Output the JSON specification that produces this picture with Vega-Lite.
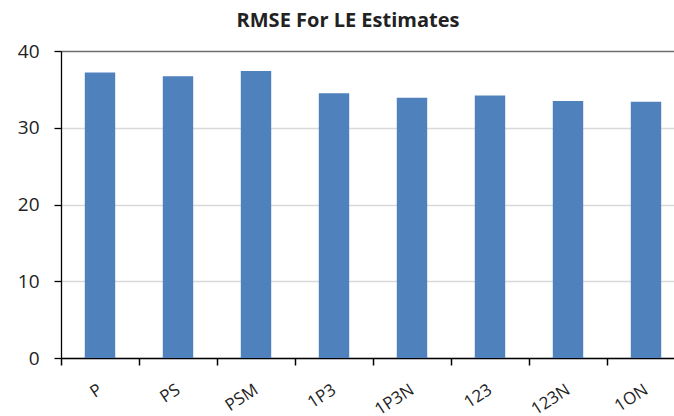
{
  "$schema": "https://vega.github.io/schema/vega-lite/v6.json",
  "autosize": {"type": "none"},
  "width": 624,
  "height": 307,
  "padding": {"left": 61, "top": 51, "right": -11, "bottom": 58},
  "background": "white",
  "title": {
    "text": "RMSE For LE Estimates",
    "font": "Open Sans",
    "fontSize": 20,
    "fontWeight": "bold",
    "color": "#222222",
    "anchor": "middle",
    "dx": -25,
    "offset": 11
  },
  "data": {
    "values": [
      {"method": "P", "rmse": 37.2},
      {"method": "PS", "rmse": 36.7},
      {"method": "PSM", "rmse": 37.4},
      {"method": "1P3", "rmse": 34.5},
      {"method": "1P3N", "rmse": 33.9},
      {"method": "123", "rmse": 34.2},
      {"method": "123N", "rmse": 33.5},
      {"method": "1ON", "rmse": 33.4}
    ]
  },
  "mark": {"type": "bar", "color": "#4F81BD", "width": {"band": 0.39}},
  "encoding": {
    "x": {
      "field": "method",
      "type": "nominal",
      "sort": null,
      "scale": {"paddingInner": 0, "paddingOuter": 0},
      "axis": {
        "title": null,
        "ticks": true,
        "tickBand": "extent",
        "grid": false,
        "domainColor": "#000000",
        "tickColor": "#000000",
        "tickSize": 7,
        "tickWidth": 1.5,
        "domainWidth": 1.3,
        "labelAngle": -33,
        "labelAlign": "right",
        "labelBaseline": "middle",
        "labelPadding": 23,
        "labelFont": "Open Sans",
        "labelFontSize": 17,
        "labelColor": "#222222"
      }
    },
    "y": {
      "field": "rmse",
      "type": "quantitative",
      "scale": {"domain": [0, 40], "nice": false},
      "axis": {
        "title": null,
        "values": [0, 10, 20, 30, 40],
        "grid": true,
        "gridColor": {"condition": {"test": "datum.value == 40", "value": "#6E6E6E"}, "value": "#D9D9D9"},
        "gridWidth": 1.3,
        "domainColor": "#000000",
        "domainWidth": 1.3,
        "tickColor": "#000000",
        "tickWidth": 1.3,
        "tickSize": 7,
        "labelPadding": 15,
        "labelFont": "Open Sans",
        "labelFontSize": 19,
        "labelColor": "#222222"
      }
    }
  },
  "config": {"view": {"stroke": null}}
}
